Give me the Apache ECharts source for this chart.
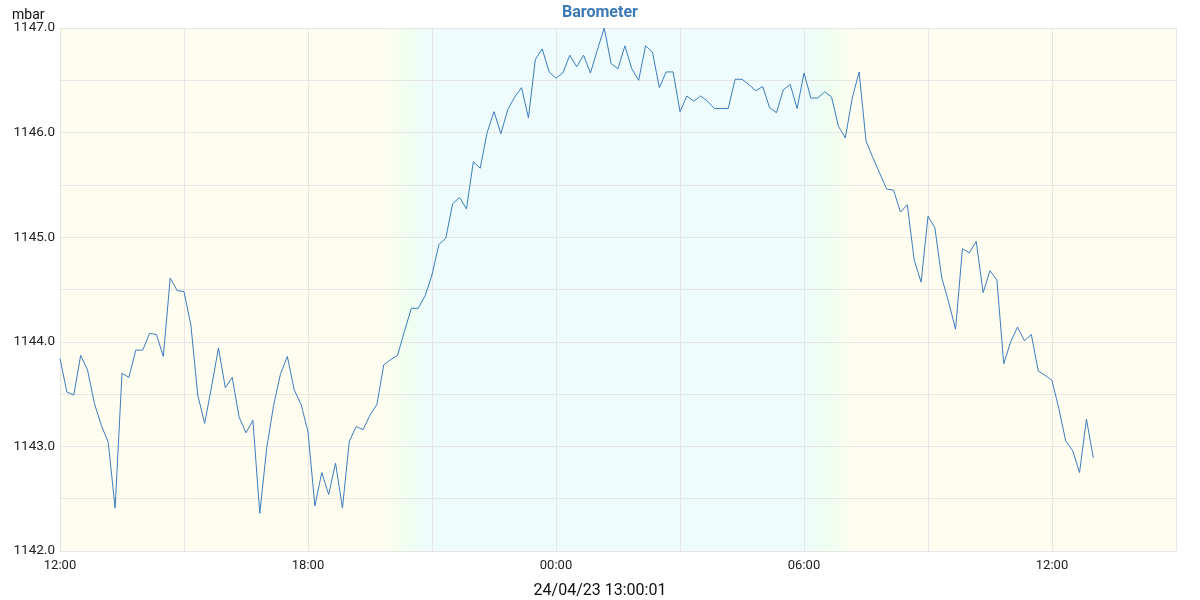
<!DOCTYPE html>
<html>
<head>
<meta charset="utf-8">
<script src="https://cdn.jsdelivr.net/npm/echarts@6/dist/echarts.min.js"></script>
<style>html,body{margin:0;padding:0;background:#fff;overflow:hidden}#c{width:1200px;height:600px}</style>
</head>
<body>
<div id="c"></div>
<script>
// Sampling: one reading every 10 minutes starting 23/04/23 12:00
const startHour = 12;
const stepMinutes = 10;
const pressure = [
1143.84,1143.52,1143.49,1143.87,1143.73,1143.41,1143.20,1143.04,1142.41,1143.70,
1143.66,1143.92,1143.92,1144.08,1144.07,1143.86,1144.61,1144.49,1144.48,1144.16,
1143.49,1143.22,1143.57,1143.94,1143.56,1143.66,1143.28,1143.13,1143.25,1142.36,
1142.98,1143.39,1143.69,1143.86,1143.54,1143.40,1143.14,1142.43,1142.75,1142.54,
1142.84,1142.41,1143.05,1143.19,1143.16,1143.30,1143.40,1143.78,1143.83,1143.87,
1144.10,1144.32,1144.32,1144.44,1144.64,1144.93,1144.99,1145.32,1145.38,1145.27,
1145.72,1145.66,1146.00,1146.20,1145.99,1146.22,1146.34,1146.43,1146.14,1146.70,
1146.80,1146.58,1146.52,1146.57,1146.74,1146.63,1146.74,1146.57,1146.79,1147.00,
1146.66,1146.61,1146.83,1146.61,1146.50,1146.83,1146.77,1146.43,1146.58,1146.58,
1146.20,1146.35,1146.30,1146.35,1146.30,1146.23,1146.23,1146.23,1146.51,1146.51,
1146.46,1146.40,1146.44,1146.24,1146.19,1146.41,1146.46,1146.23,1146.57,1146.33,
1146.33,1146.39,1146.34,1146.06,1145.95,1146.33,1146.58,1145.92,1145.76,1145.61,
1145.46,1145.45,1145.24,1145.31,1144.78,1144.57,1145.20,1145.09,1144.61,1144.38,
1144.12,1144.89,1144.85,1144.96,1144.47,1144.68,1144.59,1143.79,1144.00,1144.14,
1144.01,1144.07,1143.72,1143.68,1143.63,1143.36,1143.05,1142.96,1142.75,1143.26,
1142.89
];
// Day / night bands in hours since start (12:00)
const sunsetStart = 7.85, sunsetEnd = 9.0;    // ~19:51 - 21:00
const sunriseStart = 18.0, sunriseEnd = 19.2; // ~06:00 - 07:12
const xMax = 27;
const dateLabel = '24/04/23 13:00:01';
const titleText = 'Barometer';
const unitText = 'mbar';

const DAY = '#fefdf0', NIGHT = '#eefcfd', TWILIGHT = '#effef0';

const seriesData = pressure.map((v, i) => [i * stepMinutes / 60, v]);
const pad = n => (n < 10 ? '0' : '') + n;

const chart = echarts.init(document.getElementById('c'), null, {renderer: 'canvas', width: 1200, height: 600});
chart.setOption({
  animation: false,
  backgroundColor: '#ffffff',
  textStyle: {fontFamily: 'Roboto'},
  title: {
    text: titleText, left: 'center', top: 0,
    textStyle: {fontFamily: 'Roboto', fontSize: 16, fontWeight: 'bold', color: '#3b7ab6'}
  },
  graphic: [{
    type: 'text', left: 'center', top: 583, silent: true,
    style: {text: dateLabel, fill: '#111', font: '16px Roboto'}
  }, {
    type: 'text', left: 12, top: 8, silent: true,
    style: {text: unitText, fill: '#111', font: '14px Roboto'}
  }],
  grid: {left: 60, width: 1116, top: 28, height: 523, containLabel: false, outerBoundsMode: 'none'},
  xAxis: {
    type: 'value', min: 0, max: xMax, interval: 3, z: 3,
    axisLine: {show: false}, axisTick: {show: false},
    axisLabel: {
      fontFamily: 'Roboto', fontSize: 13, color: '#222', margin: 8,
      formatter: v => (Math.round(v) % 6 === 0 ? pad((startHour + Math.round(v)) % 24) + ':00' : '')
    },
    splitLine: {show: true, lineStyle: {color: '#e6e6e6', width: 1}}
  },
  yAxis: {
    type: 'value', min: 1142, max: 1147, interval: 0.5, z: 3,
    axisLine: {show: false}, axisTick: {show: false},
    axisLabel: {
      fontFamily: 'Roboto', fontSize: 13.5, color: '#222', margin: 5,
      formatter: v => (Math.abs(v - Math.round(v)) < 1e-6 ? v.toFixed(1) : '')
    },
    splitLine: {show: true, lineStyle: {color: '#e6e6e6', width: 1}}
  },
  series: [
    {
      type: 'line', data: [], z: 1, silent: true,
      markArea: {
        silent: true,
        data: [
          [{xAxis: 0, itemStyle: {color: DAY}}, {xAxis: sunsetStart}],
          [{xAxis: sunsetStart, itemStyle: {color: {type: 'linear', x: 0, y: 0, x2: 1, y2: 0,
            colorStops: [{offset: 0, color: DAY}, {offset: 0.5, color: TWILIGHT}, {offset: 1, color: NIGHT}]}}},
           {xAxis: sunsetEnd}],
          [{xAxis: sunsetEnd, itemStyle: {color: NIGHT}}, {xAxis: sunriseStart}],
          [{xAxis: sunriseStart, itemStyle: {color: {type: 'linear', x: 0, y: 0, x2: 1, y2: 0,
            colorStops: [{offset: 0, color: NIGHT}, {offset: 0.5, color: TWILIGHT}, {offset: 1, color: DAY}]}}},
           {xAxis: sunriseEnd}],
          [{xAxis: sunriseEnd, itemStyle: {color: DAY}}, {xAxis: xMax}]
        ]
      }
    },
    {
      type: 'line', data: seriesData, z: 5,
      showSymbol: false, symbol: 'none',
      lineStyle: {color: '#3d7cbd', width: 1},
      itemStyle: {color: '#3d7cbd'}
    }
  ]
});
</script>
</body>
</html>
